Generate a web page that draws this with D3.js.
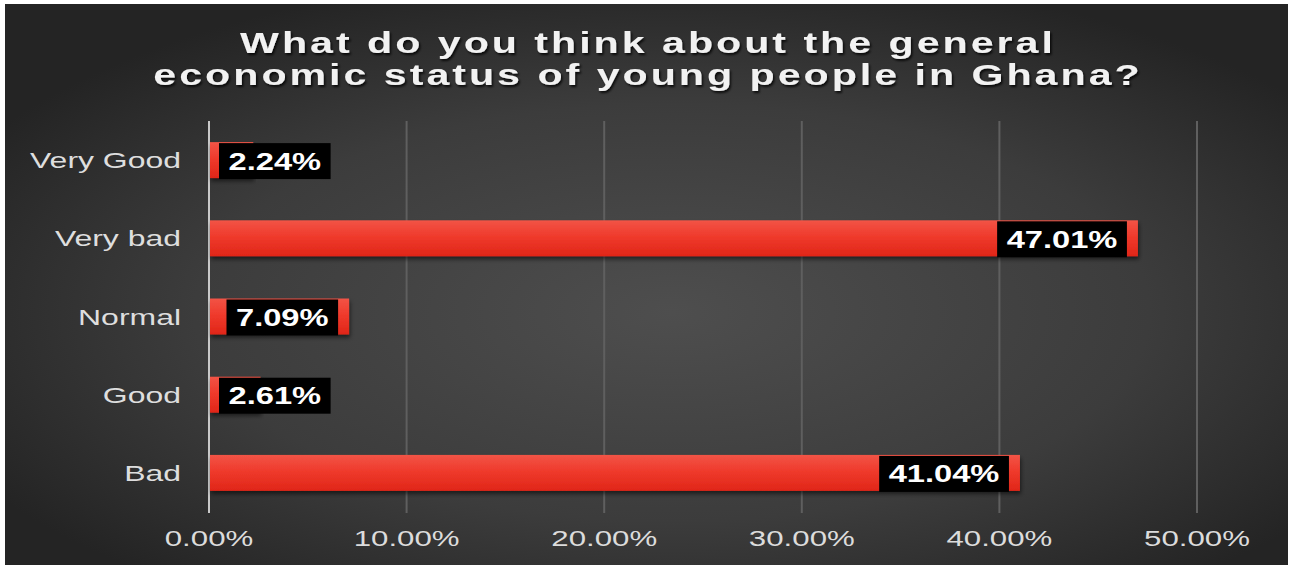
<!DOCTYPE html>
<html>
<head>
<meta charset="utf-8">
<script src="https://cdn.jsdelivr.net/npm/d3@7/dist/d3.min.js"></script>
<style>
  html, body { margin: 0; padding: 0; background: #ffffff; }
  svg { display: block; }
  text { font-family: "Liberation Sans", Arial, sans-serif; }
</style>
</head>
<body>
<svg id="chart" width="1296" height="569"></svg>
<script>
// Survey responses (percent of respondents)
const categories = ["Very Good", "Very bad", "Normal", "Good", "Bad"];
const values = [2.24, 47.01, 7.09, 2.61, 41.04];
const tickValues = [0, 10, 20, 30, 40, 50];
const titleLines = ["What do you think about the general", "economic status of young people in Ghana?"];

const W = 1296, H = 569;
const SX = 1.42; // horizontal stretch applied to the lettering
const svg = d3.select("#chart");
const defs = svg.append("defs");

// dark backdrop, lighter toward the middle
const bg = defs.append("radialGradient").attr("id", "bg")
  .attr("cx", "52%").attr("cy", "55%").attr("r", "62%");
bg.append("stop").attr("offset", "0%").attr("stop-color", "#4e4e4e");
bg.append("stop").attr("offset", "60%").attr("stop-color", "#3c3c3c");
bg.append("stop").attr("offset", "100%").attr("stop-color", "#242424");

const barGrad = defs.append("linearGradient").attr("id", "barGrad")
  .attr("x1", 0).attr("y1", 0).attr("x2", 0).attr("y2", 1);
barGrad.append("stop").attr("offset", "0%").attr("stop-color", "#f25446");
barGrad.append("stop").attr("offset", "45%").attr("stop-color", "#ef3a2c");
barGrad.append("stop").attr("offset", "100%").attr("stop-color", "#e02618");

const shadow = defs.append("filter").attr("id", "barShadow")
  .attr("x", "-5%").attr("y", "-20%").attr("width", "110%").attr("height", "150%");
shadow.append("feDropShadow").attr("dx", 1).attr("dy", 3).attr("stdDeviation", 2)
  .attr("flood-color", "#000").attr("flood-opacity", 0.55);

const tshadow = defs.append("filter").attr("id", "textShadow")
  .attr("x", "-5%").attr("y", "-20%").attr("width", "110%").attr("height", "150%");
tshadow.append("feDropShadow").attr("dx", 1.5).attr("dy", 2).attr("stdDeviation", 1.2)
  .attr("flood-color", "#000").attr("flood-opacity", 0.8);

svg.append("rect").attr("x", 5).attr("y", 4).attr("width", 1283).attr("height", 561)
  .attr("fill", "url(#bg)");

// scales
const x = d3.scaleLinear().domain([0, 50]).range([209, 1197]);
const y = d3.scaleBand().domain(categories).range([121, 512])
  .paddingInner(0.54).paddingOuter(0.27);

// stretched text helper
function stretchedText(sel, tx, ty) {
  return sel.attr("transform", `translate(${tx},${ty}) scale(${SX},1)`);
}

// title
const title = svg.append("g").attr("filter", "url(#textShadow)");
titleLines.forEach((line, i) => {
  stretchedText(title.append("text"), 648, 53 + i * 32)
    .attr("text-anchor", "middle")
    .attr("font-size", 29).attr("font-weight", "bold")
    .attr("letter-spacing", 2.1)
    .attr("fill", "#f2f2f2")
    .text(line);
});

// vertical gridlines
svg.append("g").selectAll("line").data(tickValues).join("line")
  .attr("x1", d => x(d)).attr("x2", d => x(d))
  .attr("y1", 121).attr("y2", 513)
  .attr("stroke", d => d === 0 ? "#c9c9c9" : "#5f5f5f")
  .attr("stroke-width", 2);

// x tick labels
svg.append("g").selectAll("text").data(tickValues).join("text")
  .each(function (d) { stretchedText(d3.select(this), x(d), 546); })
  .attr("text-anchor", "middle")
  .attr("font-size", 22)
  .attr("fill", "#dcdcdc")
  .text(d => d3.format(".2f")(d) + "%");

// category labels
svg.append("g").selectAll("text").data(categories).join("text")
  .each(function (d) { stretchedText(d3.select(this), 181, y(d) + y.bandwidth() / 2 + 8); })
  .attr("text-anchor", "end")
  .attr("font-size", 22.5)
  .attr("fill", "#dedede")
  .text(d => d);

// bars
const rows = categories.map((c, i) => ({ cat: c, val: values[i] }));
svg.append("g").selectAll("rect").data(rows).join("rect")
  .attr("x", x(0) + 1)
  .attr("y", d => y(d.cat))
  .attr("width", d => x(d.val) - x(0) - 1)
  .attr("height", y.bandwidth())
  .attr("fill", "url(#barGrad)")
  .attr("filter", "url(#barShadow)");

// value labels in black boxes
const labels = svg.append("g").selectAll("g").data(rows).join("g");
labels.each(function (d) {
  const g = d3.select(this);
  const t = g.append("text")
    .attr("font-size", 23).attr("font-weight", "bold")
    .attr("fill", "#ffffff")
    .text(d3.format(".2f")(d.val) + "%");
  const tw = t.node().getComputedTextLength() * SX;
  const bw = tw + 19;
  let left = x(d.val) - 11 - bw;
  if (left < x(0) + 10) left = x(0) + 10;
  const top = y(d.cat) + 1;
  g.insert("rect", "text")
    .attr("x", left).attr("y", top)
    .attr("width", bw).attr("height", y.bandwidth())
    .attr("fill", "#000000");
  stretchedText(t, left + 9.5, top + y.bandwidth() / 2 + 8.5);
});
</script>
</body>
</html>
